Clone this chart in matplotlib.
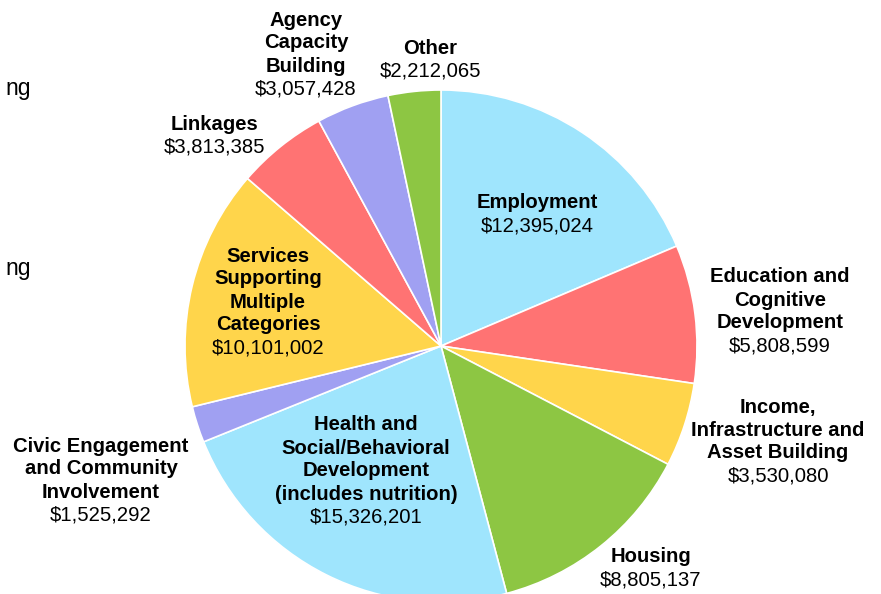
import matplotlib.pyplot as plt

plt.rcParams['font.family'] = ['Liberation Sans', 'DejaVu Sans']

# data, clockwise from the top
categories = [
    'Employment',
    'Education and\nCognitive\nDevelopment',
    'Income,\nInfrastructure and\nAsset Building',
    'Housing',
    'Health and\nSocial/Behavioral\nDevelopment\n(includes nutrition)',
    'Civic Engagement\nand Community\nInvolvement',
    'Services\nSupporting\nMultiple\nCategories',
    'Linkages',
    'Agency\nCapacity\nBuilding',
    'Other',
]
amounts = [12395024, 5808599, 3530080, 8805137, 15326201,
           1525292, 10101002, 3813385, 3057428, 2212065]
colors = ['#9fe5fd', '#ff7373', '#ffd54b', '#8dc643', '#9fe5fd',
          '#a0a0f2', '#ffd54b', '#ff7373', '#a0a0f2', '#8dc643']

# label anchor: x centre and y of first line, in pixels from top-left
label_pos = [(537, 203), (780, 277), (778, 407), (651, 557), (366, 425),
             (101, 446), (268, 256), (214, 124), (306, 20), (430, 48)]
line_step = 23

fig = plt.figure(figsize=(8.81, 5.94), dpi=100)
ax = fig.add_axes([0, 0, 1, 1])

# y axis is flipped, so counterclock in data means clockwise on screen
ax.pie(amounts, colors=colors, startangle=-90, counterclock=True,
       center=(441, 346), radius=256, frame=True,
       wedgeprops=dict(edgecolor='white', linewidth=1.2))
ax.set_xlim(0, 881)
ax.set_ylim(594, 0)
ax.set_aspect('equal')
ax.axis('off')

for name, amount, (x, y) in zip(categories, amounts, label_pos):
    lines = name.split('\n')
    for i, ln in enumerate(lines):
        ax.text(x, y + i * line_step, ln, ha='center', va='center',
                fontsize=14.6, fontweight='bold', color='black')
    ax.text(x, y + len(lines) * line_step, '${:,}'.format(amount),
            ha='center', va='center', fontsize=14.6, color='black')

# cut-off text at the left edge
for y in (88, 268):
    ax.text(31, y, 'ng', ha='right', va='center', fontsize=16.5, color='black')

fig.savefig('out.png', dpi=100)
